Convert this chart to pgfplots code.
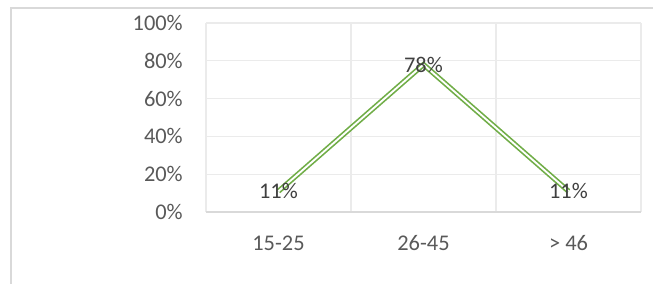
\documentclass[border=0pt]{standalone}
\usepackage{pgfplots}
\pgfplotsset{compat=1.18}
\usepackage{fontspec}
\setmainfont{Carlito}
\definecolor{lineGreen}{HTML}{70AD47}
\definecolor{tickGray}{HTML}{595959}
\definecolor{labGray}{HTML}{404040}
\definecolor{gridGray}{HTML}{EBEBEB}
\definecolor{borderGray}{HTML}{D9D9D9}
\begin{document}
\begin{tikzpicture}
\useasboundingbox (-154.5pt,-54pt) rectangle (335.25pt,159pt);
\draw[borderGray, line width=1.3pt] (-146.25pt,-70pt) -- (-146.25pt,153pt) -- (350pt,153pt);
\begin{axis}[
  at={(0,0)}, anchor=south west,
  scale only axis,
  width=326.25pt, height=141.75pt,
  xmin=-0.5, xmax=2.5, ymin=0, ymax=100,
  xtick={0,1,2},
  xticklabels={15-25,26-45,> 46},
  ytick={0,20,40,60,80,100},
  yticklabels={0\%,20\%,40\%,60\%,80\%,100\%},
  minor xtick={-0.5,0.5,1.5,2.5},
  xminorgrids=true, ymajorgrids=true,
  grid style={gridGray, line width=0.8pt},
  minor grid style={gridGray, line width=0.8pt},
  axis line style={draw=none},
  major tick length=0pt, minor tick length=0pt,
  tick style={draw=none},
  font=\fontsize{16.8}{20}\selectfont,
  ticklabel style={text=tickGray, inner sep=0pt},
  yticklabel style={anchor=east, xshift=-17.25pt},
  xticklabel style={anchor=center, yshift=-23.25pt},
  clip=false,
  nodes near coords,
  point meta=explicit symbolic,
  every node near coord/.append style={anchor=center, text=labGray, inner sep=0pt, font=\fontsize{16.8}{20}\selectfont},
]
\draw[borderGray, line width=0.9pt] (axis cs:-0.5,0) -- (axis cs:2.5,0);
\addplot[draw=lineGreen, double=white, line width=1.25pt, double distance=1.4pt, mark=none]
  coordinates {(0,11)[11\%] (1,78)[78\%] (2,11)[11\%]};
\end{axis}
\end{tikzpicture}
\end{document}
